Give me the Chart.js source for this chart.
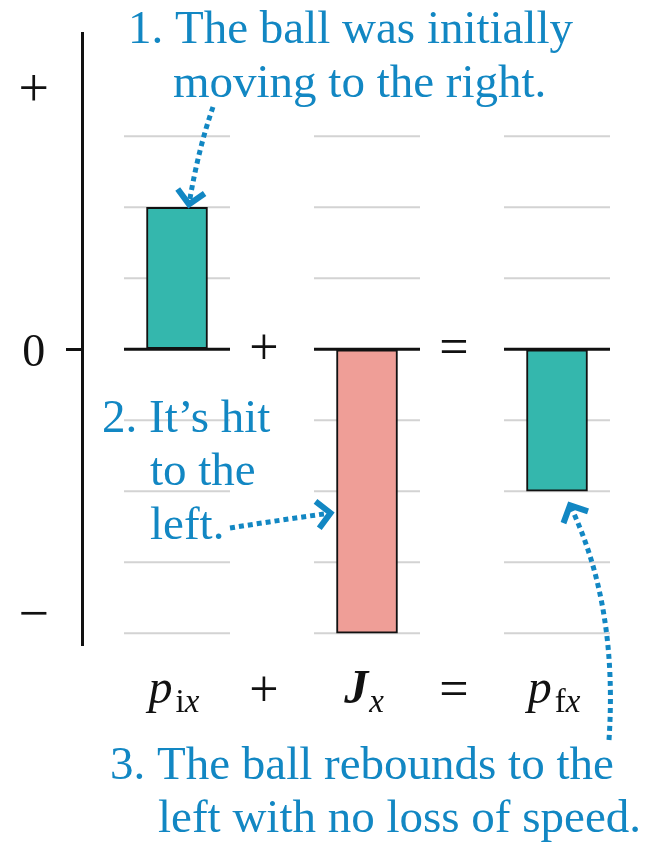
<!DOCTYPE html>
<html>
<head>
<meta charset="utf-8">
<title>Impulse and momentum</title>
<script src="https://cdn.jsdelivr.net/npm/chart.js@4.4.1/dist/chart.umd.min.js"></script>
<style>
  html, body { margin: 0; padding: 0; background: #fff; }
  #wrap { width: 666px; height: 842px; position: relative; }
</style>
</head>
<body>
<div id="wrap"><canvas id="momentumChart"></canvas></div>
<script>
// momentum bars: p_ix + J_x = p_fx
const symbols = ['p', 'J', 'p'];
const subscripts = ['ix', 'x', 'fx'];
const momentum = [2, -4, -2];
const operators = ['+', '='];

// y axis marks and the light guide lines
const yTickValues = [3.7, 0, -3.7];
const yTickLabels = ['+', '0', '\u2212'];
const gridValues = [-4, -3, -2, -1, 1, 2, 3];

// callout text
const note1 = ['1. The ball was initially', 'moving to the right.'];
const note2 = ['2. It\u2019s hit', 'to the', 'left.'];
const note3 = ['3. The ball rebounds to the', 'left with no loss of speed.'];

const serif = '"Liberation Serif", "Times New Roman", serif';
const noteBlue = '#1287c3';
const ink = '#111111';
const teal = '#34b7ad';
const pink = '#ef9e97';

// dotted callout arrow along a quadratic curve, chevron head at the tip
function dottedArrow(ctx, sx, sy, cx, cy, tx, ty) {
    ctx.save();
    ctx.strokeStyle = noteBlue;
    ctx.lineWidth = 5;
    ctx.lineCap = 'butt';
    ctx.setLineDash([5, 4]);
    ctx.beginPath();
    ctx.moveTo(sx, sy);
    ctx.quadraticCurveTo(cx, cy, tx, ty);
    ctx.stroke();

    const ang = Math.atan2(ty - cy, tx - cx);
    const len = 19;
    ctx.setLineDash([]);
    ctx.lineWidth = 6;
    ctx.lineJoin = 'miter';
    ctx.beginPath();
    ctx.moveTo(tx + len * Math.cos(ang + Math.PI - 0.8), ty + len * Math.sin(ang + Math.PI - 0.8));
    ctx.lineTo(tx, ty);
    ctx.lineTo(tx + len * Math.cos(ang + Math.PI + 0.8), ty + len * Math.sin(ang + Math.PI + 0.8));
    ctx.stroke();
    ctx.restore();
}

// italic symbol with a mixed upright/italic subscript
function drawSymbol(ctx, i, cx, baseY) {
    const mainFont = (i === 1 ? 'italic bold ' : 'italic ') + '48px ' + serif;
    ctx.font = mainFont;
    const mw = ctx.measureText(symbols[i]).width;
    const gap = i === 1 ? 1 : 3;
    const parts = subscripts[i].split('').map(ch => ({
        ch: ch,
        font: (ch === 'x' ? 'italic ' : '') + '33px ' + serif
    }));
    let sw = 0;
    parts.forEach(p => { ctx.font = p.font; p.w = ctx.measureText(p.ch).width; sw += p.w; });
    let x0 = cx - (mw + gap + sw) / 2;
    ctx.font = mainFont;
    ctx.fillText(symbols[i], x0, baseY);
    x0 += mw + gap;
    parts.forEach(p => {
        ctx.font = p.font;
        ctx.fillText(p.ch, x0, baseY + 9);
        x0 += p.w;
    });
}

const sketchPlugin = {
    id: 'momentumSketch',
    beforeDatasetsDraw(chart) {
        const { ctx, scales: { x, y } } = chart;
        ctx.save();
        momentum.forEach((v, i) => {
            const cx = x.getPixelForValue(i);
            ctx.strokeStyle = '#d3d3d3';
            ctx.lineWidth = 2;
            gridValues.forEach(g => {
                const gy = y.getPixelForValue(g);
                ctx.beginPath();
                ctx.moveTo(cx - 53, gy);
                ctx.lineTo(cx + 53, gy);
                ctx.stroke();
            });
            // zero line
            const zy = y.getPixelForValue(0);
            ctx.strokeStyle = ink;
            ctx.lineWidth = 3;
            ctx.beginPath();
            ctx.moveTo(cx - 53, zy);
            ctx.lineTo(cx + 53, zy);
            ctx.stroke();
        });
        ctx.restore();
    },
    afterDatasetsDraw(chart) {
        const { ctx, chartArea, scales: { x, y } } = chart;
        ctx.save();
        ctx.textBaseline = 'alphabetic';
        ctx.textAlign = 'left';
        ctx.fillStyle = ink;

        // equation row below the bars
        const labelBase = chartArea.bottom + 58;
        momentum.forEach((v, i) => drawSymbol(ctx, i, x.getPixelForValue(i) - 3, labelBase));

        // operators between the columns, at the zero line and on the label row
        ctx.font = '52px ' + serif;
        ctx.textAlign = 'center';
        const zy = y.getPixelForValue(0);
        operators.forEach((op, k) => {
            const ox = (x.getPixelForValue(k) + x.getPixelForValue(k + 1)) / 2 - 8;
            ctx.fillText(op, ox, zy + 15);
            ctx.fillText(op, ox, labelBase + 3);
        });

        // callouts
        ctx.fillStyle = noteBlue;
        ctx.textAlign = 'left';
        ctx.font = '47px ' + serif;
        ctx.fillText(note1[0], 128, 43);
        ctx.fillText(note1[1], 173, 97);
        ctx.fillText(note2[0], 102, 432);
        ctx.fillText(note2[1], 150, 485);
        ctx.fillText(note2[2], 150, 539);
        ctx.fillText(note3[0], 110, 779);
        ctx.fillText(note3[1], 158, 832);

        const half = 30.5;
        const p0 = x.getPixelForValue(0);
        const p1 = x.getPixelForValue(1);
        const p2 = x.getPixelForValue(2);
        dottedArrow(ctx, 213, 107, 198, 150, p0 + 12, y.getPixelForValue(momentum[0]) - 3);
        dottedArrow(ctx, 230, 528, (230 + p1 - half - 6) / 2, 520, p1 - half - 6, 513);
        dottedArrow(ctx, 609, 740, 618, 605, p2 + 13, y.getPixelForValue(momentum[2]) + 14);
        ctx.restore();
    }
};

new Chart(document.getElementById('momentumChart'), {
    type: 'bar',
    data: {
        labels: symbols.map((s, i) => s + '_' + subscripts[i]),
        datasets: [{
            data: momentum,
            backgroundColor: [teal, pink, teal],
            borderColor: ink,
            borderWidth: 2,
            borderSkipped: false,
            barThickness: 61
        }]
    },
    options: {
        responsive: true,
        maintainAspectRatio: false,
        animation: false,
        layout: { padding: { top: 33, right: 14, bottom: 197, left: 0 } },
        plugins: { legend: { display: false }, tooltip: { enabled: false } },
        scales: {
            x: { display: false },
            y: {
                min: -4.165,
                max: 4.455,
                afterBuildTicks: s => { s.ticks = yTickValues.map(v => ({ value: v })); },
                afterFit: s => {
                    s.width = 82;
                    s.paddingTop = 0;
                    s.paddingBottom = 0;
                },
                ticks: {
                    callback: (v, i) => yTickLabels[i],
                    font: c => ({ family: serif, size: (c.tick && c.tick.value === 0) ? 46 : 54 }),
                    color: ink,
                    crossAlign: 'center',
                    padding: 17,
                    labelOffset: 5
                },
                grid: {
                    drawOnChartArea: false,
                    tickLength: 16,
                    tickWidth: 3,
                    color: c => (c.tick && c.tick.value === 0) ? ink : 'rgba(0,0,0,0)'
                },
                border: { color: ink, width: 3 }
            }
        }
    },
    plugins: [sketchPlugin]
});
</script>
</body>
</html>
